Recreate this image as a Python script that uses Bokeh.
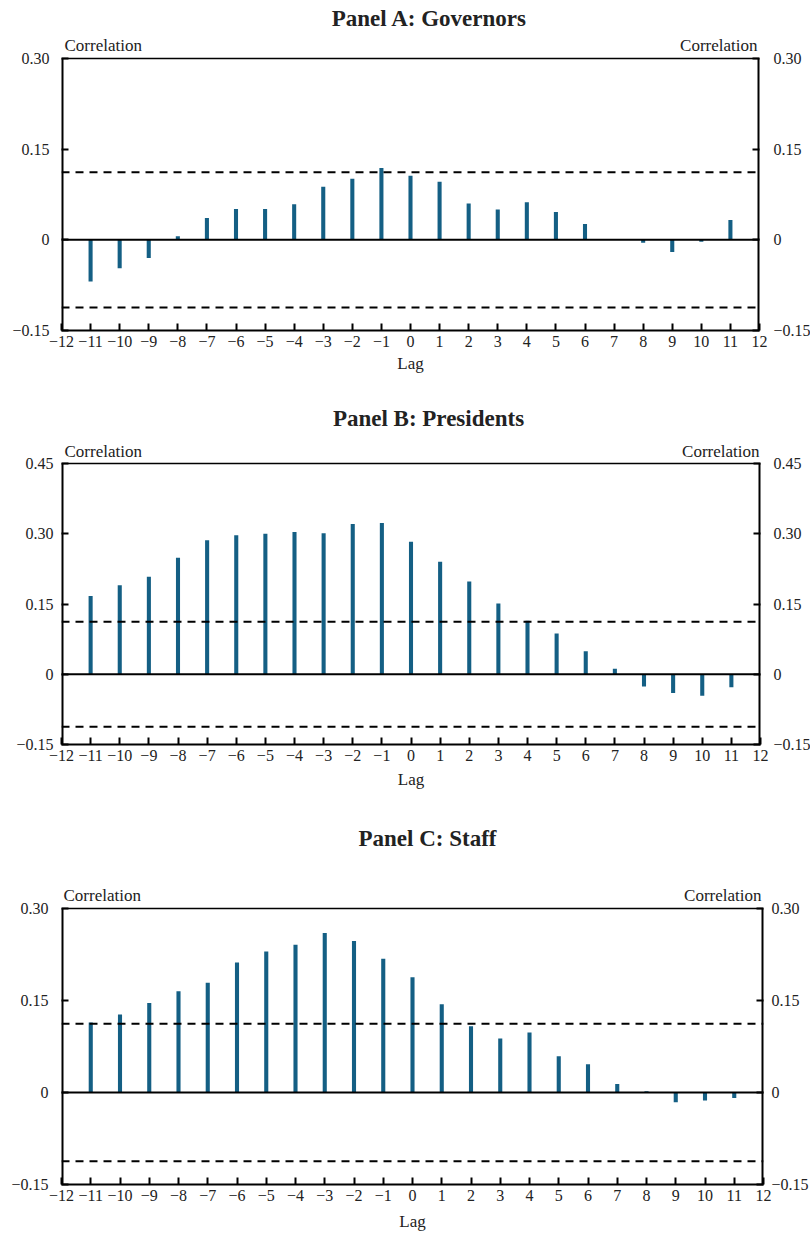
from bokeh.plotting import figure
from bokeh.layouts import column
from bokeh.models import Span, FixedTicker, LinearAxis, Range1d
from bokeh.core.properties import value
from bokeh.embed import file_html
from bokeh.resources import INLINE

# ---------------- data ----------------
lags = list(range(-11, 12))
governors = [-0.069, -0.047, -0.030, 0.006, 0.036, 0.051, 0.051, 0.059, 0.088, 0.101, 0.119,
             0.106, 0.096, 0.060, 0.050, 0.062, 0.046, 0.026, 0.0, -0.005, -0.020, -0.003, 0.033]
presidents = [0.167, 0.190, 0.208, 0.249, 0.286, 0.297, 0.300, 0.304, 0.301, 0.321, 0.323,
              0.283, 0.240, 0.198, 0.151, 0.114, 0.087, 0.049, 0.012, -0.026, -0.040, -0.046, -0.028]
staff = [0.114, 0.127, 0.146, 0.165, 0.179, 0.212, 0.230, 0.241, 0.260, 0.247, 0.218,
         0.188, 0.144, 0.108, 0.088, 0.098, 0.059, 0.046, 0.014, 0.002, -0.016, -0.013, -0.009]
conf_band = 0.112
titles = ["Panel A: Governors", "Panel B: Presidents", "Panel C: Staff"]
yticks_ac = [-0.15, 0.0, 0.15, 0.30]
yticks_b = [-0.15, 0.0, 0.15, 0.30, 0.45]
ytick_labels = {-0.15: "\u22120.15", 0.0: "0", 0.15: "0.15", 0.30: "0.30", 0.45: "0.45"}
xticks = list(range(-12, 13))
y_label = "Correlation"
x_label = "Lag"

FONT = "Liberation Serif"
BAR = "#145f84"
TXT = "#222222"

# layout (page pixel coordinates)
panels = [
    dict(title=titles[0], vals=governors, yticks=yticks_ac, fig_top=0, fig_h=393,
         fl=59, fr=757, ft=58, fb=330, title_xy=(427, 18), corr=(62, 755, 45),
         lag_stand=4, lstand=12, rstand=14),
    dict(title=titles[1], vals=presidents, yticks=yticks_b, fig_top=393, fig_h=420,
         fl=59, fr=758, ft=463, fb=744, title_xy=(426, 418), corr=(62, 757, 451),
         lag_stand=6, lstand=8, rstand=13),
    dict(title=titles[2], vals=staff, yticks=yticks_ac, fig_top=813, fig_h=421,
         fl=61, fr=763, ft=908, fb=1184, title_xy=(427, 838), corr=(63, 761, 895),
         lag_stand=8, lstand=13, rstand=8),
]

TOTAL_W = 808
figs = []
for d in panels:
    ymin, ymax = d["yticks"][0], d["yticks"][-1]
    xmin, xmax = -12, 12
    fw = d["fr"] - d["fl"]
    box_h = d["fb"] - d["ft"]
    pxpu = box_h / (ymax - ymin)
    pxpx = fw / (xmax - xmin)

    def X(px, d=d, pxpx=pxpx):
        return xmin + (px - d["fl"]) / pxpx

    def Y(py, d=d, pxpu=pxpu, ymax=ymax):
        return ymax - (py - d["ft"]) / pxpu

    y_top_ext = Y(d["fig_top"])
    fh = d["fb"] - d["fig_top"]
    bl = d["fl"]
    bb = d["fig_top"] + d["fig_h"] - d["fb"]
    br = TOTAL_W - bl - fw

    p = figure(frame_width=fw, frame_height=fh, x_range=Range1d(xmin, xmax),
               y_range=Range1d(ymin, y_top_ext), toolbar_location=None, output_backend="svg",
               min_border_left=bl, min_border_right=br, min_border_top=0, min_border_bottom=bb,
               y_axis_location=None)
    p.background_fill_color = "white"
    p.border_fill_color = "white"
    p.outline_line_color = None
    p.xgrid.visible = False
    p.ygrid.visible = False

    # bars
    p.vbar(x=lags, top=d["vals"], bottom=0, width=0.14, fill_color=BAR, line_color=None)

    # zero line and confidence bands
    p.add_layout(Span(location=0, dimension="width", line_color="black", line_width=2))
    for loc in (conf_band, -conf_band):
        p.add_layout(Span(location=loc, dimension="width", line_color="black",
                          line_width=2, line_dash="8 6"))

    # plot box (left/right spines and top line)
    p.segment(x0=[xmin, xmax], y0=[ymin, ymin], x1=[xmin, xmax], y1=[ymax, ymax],
              line_color="black", line_width=4)
    p.segment(x0=[xmin], y0=[ymax], x1=[xmax], y1=[ymax], line_color="black", line_width=1.5)

    # axes
    xa = p.xaxis[0]
    xa.ticker = FixedTicker(ticks=xticks)
    xa.major_label_overrides = {t: str(t).replace("-", "\u2212") for t in xticks}
    xa.major_label_standoff = 5
    xa.axis_label = x_label
    xa.axis_label_standoff = d["lag_stand"]
    xa.axis_label_text_font = FONT
    xa.axis_label_text_font_size = "17px"
    xa.axis_label_text_font_style = "normal"
    xa.axis_label_text_color = TXT
    xa.axis_line_color = "black"
    ylabels = {t: ytick_labels[t] for t in d["yticks"]}
    la = LinearAxis(ticker=FixedTicker(ticks=d["yticks"]), major_label_overrides=ylabels,
                    major_label_standoff=d["lstand"])
    ra = LinearAxis(ticker=FixedTicker(ticks=d["yticks"]), major_label_overrides=ylabels,
                    major_label_standoff=d["rstand"])
    p.add_layout(la, "left")
    p.add_layout(ra, "right")
    la.axis_line_color = None
    ra.axis_line_color = None
    for ax in (xa, la, ra):
        ax.axis_line_width = 2
        ax.major_tick_in = 7
        ax.major_tick_out = 0
        ax.major_tick_line_width = 2
        ax.major_tick_line_color = "black"
        ax.minor_tick_line_color = None
        ax.major_label_text_font = FONT
        ax.major_label_text_font_size = "16px"
        ax.major_label_text_color = TXT

    # panel title
    p.text(x=[X(d["title_xy"][0])], y=[Y(d["title_xy"][1])], text=[d["title"]],
           text_font=value(FONT), text_font_style="bold", text_font_size="23px",
           text_align="center", text_baseline="middle", text_color=TXT)
    # "Correlation" labels
    cl, cr, cy = d["corr"]
    p.text(x=[X(cl)], y=[Y(cy)], text=[y_label], text_font=value(FONT),
           text_font_size="17px", text_align="left", text_baseline="middle", text_color=TXT)
    p.text(x=[X(cr)], y=[Y(cy)], text=[y_label], text_font=value(FONT),
           text_font_size="17px", text_align="right", text_baseline="middle", text_color=TXT)
    figs.append(p)

layout = column(*figs, spacing=0)
open("out.html", "w").write(file_html(layout, INLINE))
